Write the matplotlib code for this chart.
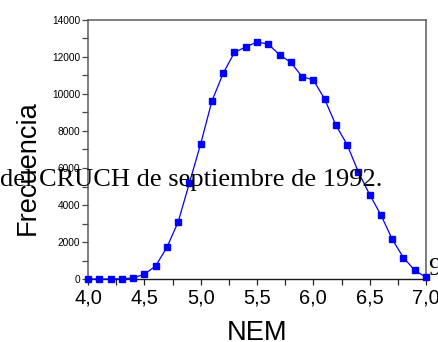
import numpy as np
import matplotlib
matplotlib.use("Agg")
import matplotlib.pyplot as plt
from matplotlib.ticker import MultipleLocator, FuncFormatter

# datos (NEM vs frecuencia)
nem = [4.0, 4.1, 4.2, 4.3, 4.4, 4.5, 4.6, 4.7, 4.8, 4.9,
       5.0, 5.1, 5.2, 5.3, 5.4, 5.5, 5.6, 5.7, 5.8, 5.9,
       6.0, 6.1, 6.2, 6.3, 6.4, 6.5, 6.6, 6.7, 6.8, 6.9, 7.0]
frecuencia = [0, 0, 0, 10, 60, 250, 700, 1710, 3080, 5190,
              7300, 9620, 11120, 12250, 12540, 12810, 12700, 12120, 11710, 10940,
              10760, 9730, 8320, 7260, 5780, 4560, 3460, 2150, 1150, 470, 90]
texto_fondo = "del CRUCH de septiembre de 1992."
texto_borde = "9"

plt.rcParams['font.family'] = ['Liberation Sans', 'DejaVu Sans']

fig = plt.figure(figsize=(4.38, 3.42), dpi=100)
ax = fig.add_axes([88/438, 63/342, 338/438, 259/342])

ax.plot(nem, frecuencia, color='#0000ff', lw=0.9, marker='s', ms=3.7,
        mec='#0000ff', mfc='#0000ff', clip_on=False, zorder=3)

ax.set_xlim(4.0, 7.0)
ax.set_ylim(0, 14000)
ax.xaxis.set_major_locator(MultipleLocator(0.25))
ax.yaxis.set_major_locator(MultipleLocator(1000))

def fmt_x(v, pos):
    if abs(v * 2 - round(v * 2)) < 1e-6:
        return ("%.1f" % v).replace('.', ',')
    return ""

def fmt_y(v, pos):
    if int(round(v)) % 2000 == 0:
        return "%d" % v
    return ""

ax.xaxis.set_major_formatter(FuncFormatter(fmt_x))
ax.yaxis.set_major_formatter(FuncFormatter(fmt_y))
ax.tick_params(axis='x', direction='out', length=4, width=0.9, labelsize=14.4,
               pad=3, color='#222222')
ax.tick_params(axis='y', direction='out', length=4, width=0.9, labelsize=7.3,
               pad=1.5, color='#444444')

for s in ['left', 'top', 'right']:
    ax.spines[s].set_color('#5a5a5a')
    ax.spines[s].set_linewidth(1.1)
ax.spines['bottom'].set_color('#1a1a1a')
ax.spines['bottom'].set_linewidth(1.0)

# etiquetas de ejes
fig.text(35/438, (342-167.5)/342, "Frecuencia", rotation=90, rotation_mode='anchor',
         ha='center', va='baseline', fontsize=19.6)
fig.text(257/438, (342-339.5)/342, "NEM", ha='center', va='baseline', fontsize=19.6)

# texto superpuesto (serif)
fig.text(0.0, (342-186)/342, texto_fondo, ha='left', va='baseline', fontsize=19,
         family=['Liberation Serif', 'DejaVu Serif'])
fig.text(428/438, (342-275)/342, texto_borde, ha='left', va='baseline', fontsize=19,
         family=['Liberation Serif', 'DejaVu Serif'])

fig.savefig("out.png", dpi=100)
